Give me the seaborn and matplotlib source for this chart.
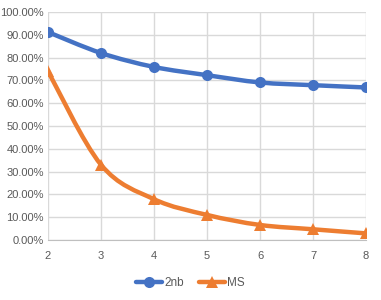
import matplotlib
matplotlib.use("Agg")
import matplotlib.pyplot as plt
from matplotlib.path import Path
from matplotlib.patches import PathPatch
from matplotlib.lines import Line2D
from matplotlib.ticker import PercentFormatter
import seaborn as sns
import pandas as pd

# data
steps = [2, 3, 4, 5, 6, 7, 8]
nb2 = [91.2, 82.0, 75.9, 72.3, 69.1, 67.9, 66.9]
ms = [74.0, 33.0, 17.9, 11.0, 6.6, 4.7, 2.9]
series_names = ["2nb", "MS"]
colors = ["#4472C4", "#ED7D31"]
markers = ["o", "^"]

df = pd.DataFrame({
    "step": steps * 2,
    "value": nb2 + ms,
    "series": [series_names[0]] * len(steps) + [series_names[1]] * len(steps),
})

sns.set_style("white")
plt.rcParams["font.family"] = ["Liberation Sans", "DejaVu Sans"]


def smooth_path(xs, ys):
    # Excel-like smoothed line: cubic bezier through the points
    verts = [(xs[0], ys[0])]
    codes = [Path.MOVETO]
    n = len(xs)
    for i in range(n - 1):
        x0, y0 = xs[max(i - 1, 0)], ys[max(i - 1, 0)]
        x1, y1 = xs[i], ys[i]
        x2, y2 = xs[i + 1], ys[i + 1]
        x3, y3 = xs[min(i + 2, n - 1)], ys[min(i + 2, n - 1)]
        c1 = (x1 + (x2 - x0) / 6, y1 + (y2 - y0) / 6)
        c2 = (x2 - (x3 - x1) / 6, y2 - (y3 - y1) / 6)
        verts += [c1, c2, (x2, y2)]
        codes += [Path.CURVE4] * 3
    return Path(verts, codes)


fig = plt.figure(figsize=(3.81, 3.0), dpi=100)
ax = fig.add_axes([48 / 381, 1 - 240 / 300, (366 - 48) / 381, (240 - 12) / 300])

sns.lineplot(data=df, x="step", y="value", hue="series", style="series",
             palette=colors, markers=markers, dashes=False, lw=0,
             markersize=8, markeredgewidth=0, legend=False, ax=ax, zorder=4)

for vals, c in zip([nb2, ms], colors):
    ax.add_patch(PathPatch(smooth_path(steps, vals), fill=False, edgecolor=c,
                           lw=3.2, capstyle="round", joinstyle="round", zorder=3))

ax.set_xlim(2, 8)
ax.set_ylim(0, 100)
ax.set_xticks(steps)
ax.set_yticks(range(0, 101, 10))
ax.yaxis.set_major_formatter(PercentFormatter(decimals=2))
ax.grid(True, color="#d9d9d9", lw=1)
for s in ["top", "right", "left"]:
    ax.spines[s].set_visible(False)
ax.spines["bottom"].set_color("#bfbfbf")
ax.tick_params(axis="both", length=0, labelsize=8, colors="#595959")
ax.tick_params(axis="x", pad=8)
ax.tick_params(axis="y", pad=3)
ax.set_xlabel("")
ax.set_ylabel("")

handles = [Line2D([0], [0], color=c, marker=m, lw=3.2, markersize=8, markeredgewidth=0)
           for c, m in zip(colors, markers)]
fig.legend(handles, series_names, loc="center", bbox_to_anchor=(0.5, 1 - 283 / 300),
           ncol=2, frameon=False, fontsize=8.5, handlelength=2.2, handletextpad=0.2,
           columnspacing=1.2, labelcolor="#595959")

fig.savefig("out.png", dpi=100)
